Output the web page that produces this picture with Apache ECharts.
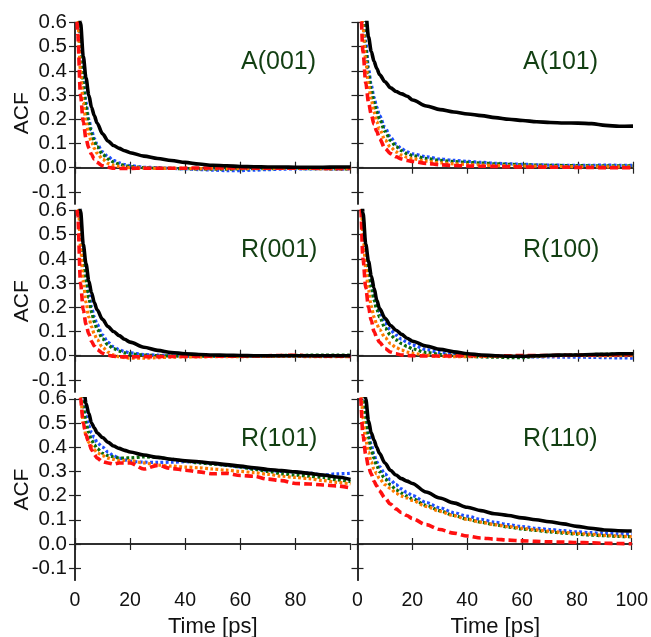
<!DOCTYPE html>
<html>
<head>
<meta charset="utf-8">
<script src="https://cdn.jsdelivr.net/npm/echarts@6/dist/echarts.min.js"></script>
<style>
html,body{margin:0;padding:0;background:#fff;}
#chart{width:651px;height:637px;}
</style>
</head>
<body>
<div id="chart"></div>
<script>
const time = [0,1,2,3,4,5,6,7,8,10,12,14,16,18,20,25,30,35,40,45,50,55,60,65,70,75,80,85,90,95,100];
const xTicks = [0,20,40,60,80,100];
const yTicks = [-0.1,0.0,0.1,0.2,0.3,0.4,0.5,0.6];
const panelTitles = ['A(001)','A(101)','R(001)','R(100)','R(101)','R(110)'];
const seriesNames = ['blue','green','orange','red','black'];

// A(001)
const a001_black = [1.0,0.78,0.6,0.46,0.37,0.30,0.25,0.215,0.185,0.14,0.11,0.092,0.08,0.07,0.062,0.048,0.038,0.03,0.022,0.015,0.01,0.008,0.005,0.004,0.003,0.003,0.002,0.002,0.002,0.003,0.003];
const a001_blue = [1.0,0.72,0.52,0.37,0.27,0.2,0.155,0.12,0.098,0.065,0.045,0.03,0.02,0.013,0.008,0.002,0.0,-0.003,-0.005,-0.008,-0.01,-0.012,-0.012,-0.01,-0.008,-0.006,-0.005,-0.005,-0.004,-0.006,-0.005];
const a001_green = [1.0,0.7,0.5,0.35,0.25,0.185,0.14,0.108,0.087,0.055,0.036,0.023,0.015,0.009,0.005,0.0,-0.002,-0.003,-0.004,-0.005,-0.006,-0.006,-0.005,-0.004,-0.004,-0.003,-0.003,-0.004,-0.004,-0.005,-0.005];
const a001_orange = [1.0,0.62,0.4,0.27,0.19,0.14,0.105,0.08,0.06,0.035,0.018,0.01,0.005,0.002,0.0,-0.002,-0.003,-0.003,-0.003,-0.004,-0.004,-0.004,-0.003,-0.003,-0.003,-0.002,-0.003,-0.003,-0.004,-0.004,-0.004];
const a001_red = [1.0,0.55,0.3,0.19,0.12,0.082,0.055,0.035,0.022,0.008,0.002,-0.002,-0.003,-0.003,-0.003,-0.002,-0.002,-0.002,-0.002,-0.001,-0.001,-0.001,-0.001,-0.002,-0.002,-0.002,-0.002,-0.002,-0.003,-0.003,-0.003];

// A(101)
const a101_black = [1.0,0.9,0.78,0.64,0.54,0.48,0.44,0.41,0.385,0.355,0.33,0.315,0.305,0.295,0.28,0.255,0.24,0.23,0.222,0.215,0.207,0.2,0.195,0.19,0.187,0.185,0.184,0.182,0.175,0.171,0.172];
const a101_blue = [1.0,0.82,0.66,0.52,0.41,0.34,0.29,0.25,0.215,0.165,0.125,0.097,0.078,0.065,0.057,0.045,0.036,0.03,0.026,0.022,0.018,0.016,0.014,0.012,0.011,0.01,0.01,0.01,0.011,0.01,0.01];
const a101_green = [1.0,0.8,0.63,0.49,0.39,0.32,0.27,0.23,0.2,0.15,0.112,0.087,0.07,0.058,0.05,0.038,0.03,0.025,0.022,0.019,0.016,0.014,0.012,0.011,0.01,0.009,0.009,0.008,0.008,0.008,0.008];
const a101_orange = [1.0,0.78,0.58,0.44,0.34,0.28,0.23,0.19,0.16,0.115,0.085,0.065,0.052,0.043,0.037,0.027,0.02,0.016,0.013,0.011,0.009,0.008,0.007,0.006,0.005,0.005,0.004,0.004,0.003,0.003,0.003];
const a101_red = [1.0,0.7,0.48,0.35,0.27,0.22,0.18,0.15,0.12,0.08,0.058,0.045,0.036,0.03,0.026,0.018,0.012,0.009,0.007,0.006,0.005,0.004,0.003,0.003,0.002,0.002,0.001,0.001,0.0,0.0,0.0];

// R(001)
const r001_black = [1.0,0.8,0.6,0.46,0.38,0.31,0.26,0.22,0.19,0.15,0.12,0.1,0.083,0.068,0.056,0.035,0.022,0.013,0.008,0.005,0.003,0.002,0.001,0.0,0.0,0.0,0.0,0.0,0.0,0.0,0.0];
const r001_blue = [1.0,0.78,0.56,0.42,0.33,0.26,0.2,0.16,0.13,0.085,0.055,0.037,0.025,0.017,0.012,0.005,0.002,0.0,-0.002,-0.003,-0.003,-0.003,-0.002,-0.002,-0.002,-0.001,-0.001,-0.002,-0.002,-0.001,-0.001];
const r001_green = [1.0,0.76,0.54,0.4,0.31,0.24,0.18,0.14,0.11,0.07,0.045,0.029,0.019,0.012,0.008,0.003,0.0,-0.001,-0.002,-0.002,-0.002,-0.001,-0.001,0.0,0.0,0.001,0.001,0.002,0.002,0.002,0.002];
const r001_orange = [1.0,0.7,0.45,0.31,0.22,0.16,0.12,0.09,0.067,0.035,0.015,0.003,-0.004,-0.008,-0.01,-0.01,-0.008,-0.006,-0.005,-0.005,-0.004,-0.004,-0.004,-0.003,-0.003,-0.003,-0.003,-0.004,-0.004,-0.004,-0.004];
const r001_red = [1.0,0.58,0.3,0.19,0.13,0.09,0.06,0.04,0.026,0.01,0.002,-0.002,-0.004,-0.005,-0.005,-0.004,-0.004,-0.003,-0.003,-0.003,-0.002,-0.002,-0.002,-0.001,0.0,0.001,0.002,0.0,-0.002,-0.002,-0.003];

// R(100)
const r100_black = [1.0,0.8,0.59,0.46,0.39,0.33,0.28,0.23,0.195,0.155,0.125,0.105,0.088,0.072,0.06,0.04,0.026,0.016,0.008,0.003,0.0,-0.002,-0.002,0.0,0.002,0.003,0.003,0.005,0.006,0.008,0.008];
const r100_blue = [1.0,0.78,0.57,0.44,0.36,0.3,0.25,0.21,0.18,0.135,0.105,0.085,0.068,0.055,0.044,0.025,0.013,0.006,0.002,0.0,-0.002,-0.003,-0.004,-0.005,-0.005,-0.006,-0.006,-0.007,-0.008,-0.009,-0.01];
const r100_green = [1.0,0.76,0.55,0.42,0.34,0.28,0.23,0.19,0.16,0.115,0.085,0.065,0.05,0.038,0.028,0.013,0.005,0.0,-0.003,-0.005,-0.006,-0.008,-0.008,-0.003,0.0,0.002,0.004,0.005,0.006,0.007,0.008];
const r100_orange = [1.0,0.72,0.5,0.36,0.27,0.205,0.16,0.13,0.108,0.075,0.05,0.034,0.023,0.015,0.01,0.002,-0.003,-0.004,-0.004,-0.003,-0.003,-0.002,-0.002,-0.001,0.0,0.0,0.001,0.0,-0.001,0.0,0.0];
const r100_red = [1.0,0.66,0.4,0.28,0.2,0.145,0.1,0.075,0.055,0.03,0.015,0.008,0.003,0.001,0.0,-0.001,-0.001,-0.001,0.0,0.0,0.0,0.0,0.001,0.001,0.001,0.002,0.002,0.003,0.004,0.004,0.005];

// R(101)
const r101_black = [1.0,0.9,0.78,0.67,0.58,0.54,0.5,0.48,0.46,0.44,0.42,0.405,0.395,0.387,0.38,0.368,0.358,0.35,0.344,0.34,0.334,0.328,0.322,0.315,0.308,0.303,0.298,0.292,0.285,0.277,0.267];
const r101_blue = [1.0,0.85,0.7,0.6,0.53,0.49,0.46,0.44,0.42,0.4,0.38,0.365,0.355,0.348,0.342,0.338,0.337,0.338,0.34,0.338,0.333,0.325,0.318,0.312,0.305,0.3,0.298,0.293,0.285,0.29,0.292];
const r101_green = [1.0,0.83,0.68,0.57,0.5,0.46,0.43,0.41,0.395,0.375,0.365,0.36,0.355,0.355,0.356,0.36,0.358,0.35,0.342,0.335,0.33,0.325,0.318,0.308,0.3,0.29,0.285,0.28,0.275,0.265,0.258];
const r101_orange = [1.0,0.78,0.62,0.5,0.45,0.42,0.405,0.39,0.378,0.365,0.355,0.35,0.345,0.345,0.345,0.335,0.326,0.322,0.318,0.315,0.31,0.305,0.3,0.295,0.288,0.28,0.275,0.27,0.262,0.255,0.248];
const r101_red = [1.0,0.72,0.6,0.5,0.45,0.42,0.39,0.37,0.355,0.34,0.335,0.33,0.335,0.335,0.335,0.31,0.325,0.312,0.305,0.298,0.29,0.292,0.283,0.28,0.268,0.262,0.25,0.248,0.244,0.24,0.232];

// R(110)
const r110_black = [1.0,0.9,0.75,0.6,0.51,0.46,0.43,0.4,0.375,0.335,0.305,0.285,0.27,0.26,0.25,0.215,0.19,0.17,0.152,0.138,0.125,0.118,0.108,0.1,0.092,0.083,0.073,0.065,0.058,0.055,0.054];
const r110_blue = [1.0,0.85,0.68,0.54,0.46,0.41,0.37,0.34,0.32,0.29,0.265,0.245,0.228,0.213,0.2,0.172,0.15,0.13,0.115,0.102,0.09,0.08,0.072,0.065,0.06,0.055,0.05,0.047,0.044,0.042,0.04];
const r110_green = [1.0,0.83,0.65,0.52,0.44,0.39,0.355,0.325,0.3,0.27,0.245,0.225,0.21,0.198,0.187,0.16,0.138,0.118,0.103,0.09,0.08,0.07,0.062,0.056,0.05,0.045,0.041,0.037,0.034,0.031,0.03];
const r110_orange = [1.0,0.72,0.52,0.43,0.38,0.34,0.31,0.29,0.27,0.245,0.23,0.21,0.198,0.19,0.18,0.155,0.135,0.117,0.102,0.09,0.08,0.072,0.065,0.058,0.053,0.048,0.044,0.04,0.036,0.033,0.03];
const r110_red = [1.0,0.62,0.45,0.37,0.32,0.29,0.26,0.24,0.22,0.19,0.165,0.145,0.13,0.118,0.105,0.08,0.06,0.045,0.033,0.025,0.02,0.016,0.013,0.011,0.009,0.008,0.006,0.005,0.003,0.002,0.001];

const panelData = [
  [a001_blue, a001_green, a001_orange, a001_red, a001_black],
  [a101_blue, a101_green, a101_orange, a101_red, a101_black],
  [r001_blue, r001_green, r001_orange, r001_red, r001_black],
  [r100_blue, r100_green, r100_orange, r100_red, r100_black],
  [r101_blue, r101_green, r101_orange, r101_red, r101_black],
  [r110_blue, r110_green, r110_orange, r110_red, r110_black]
];

const styles = [
  {color:'#1f4fff', width:3.2, type:[2.8,2.4]},
  {color:'#0b6b0b', width:3.2, type:[2.8,2.4]},
  {color:'#ff7a00', width:3.2, type:[2.8,2.4]},
  {color:'#ff1010', width:3.6, type:[8,4]},
  {color:'#000000', width:3.6, type:'solid'}
];

const gridLefts = [75, 357.5];
const gridWidth = 275.5;
const gridTops = [22.5, 210.5, 398.8];
const gridHeight = 181.5;
const frameColor = '#222';
const fontFam = '"Liberation Sans", Arial, sans-serif';

const grids = [], xAxes = [], yAxes = [], series = [], graphics = [];
for (let i = 0; i < 6; i++) {
  const col = i % 2, row = Math.floor(i / 2);
  grids.push({left: gridLefts[col], top: gridTops[row], width: gridWidth, height: gridHeight, containLabel: false});
  const isBottom = row === 2;
  const base = {
    gridIndex: i, type: 'value', min: 0, max: 100, interval: 20,
    axisLine: {show: true, lineStyle: {color: frameColor, width: 1.5}},
    axisTick: {show: true, inside: true, length: 6, lineStyle: {color: frameColor, width: 1.2}},
    splitLine: {show: false}
  };
  xAxes.push(Object.assign({}, base, {
    position: 'bottom',
    axisLabel: {show: isBottom, margin: 10, fontSize: 19.5, color: '#111', fontFamily: fontFam,
      showMaxLabel: col === 1, showMinLabel: true}
  }));
  xAxes.push(Object.assign({}, base, {position: 'top', axisLabel: {show: false}}));
  const ybase = {
    gridIndex: i, type: 'value', min: -0.15, max: 0.6,
    axisLine: {show: true, lineStyle: {color: frameColor, width: 1.5}},
    axisTick: {show: true, inside: true, length: 6, customValues: yTicks, lineStyle: {color: frameColor, width: 1.2}},
    splitLine: {show: false}
  };
  yAxes.push(Object.assign({}, ybase, {
    position: 'left',
    axisLabel: {show: col === 0, customValues: yTicks, margin: 8, fontSize: 20.5, color: '#111', fontFamily: fontFam,
      formatter: v => (Math.abs(v) < 1e-9 ? 0 : v).toFixed(1)}
  }));
  yAxes.push(Object.assign({}, ybase, {position: 'right', axisLabel: {show: false}}));

  panelData[i].forEach((arr, k) => {
    const st = styles[k];
    series.push({
      name: seriesNames[k], type: 'line', xAxisIndex: 2 * i, yAxisIndex: 2 * i,
      data: time.map((t, j) => [t, arr[j]]),
      showSymbol: false, smooth: 0.3, smoothMonotone: 'x', clip: true,
      lineStyle: {color: st.color, width: st.width, type: st.type, cap: 'butt'},
      z: 2 + k, silent: true, animation: false
    });
  });

  graphics.push({
    type: 'text',
    x: gridLefts[col] + (col === 0 ? 166 : 165.5),
    y: gridTops[row] + 40,
    style: {text: panelTitles[i], font: '25px ' + fontFam, fill: '#123f12', align: 'left', verticalAlign: 'middle'}
  });
}
for (let row = 0; row < 3; row++) {
  graphics.push({
    type: 'text', x: 22, y: gridTops[row] + gridHeight / 2, rotation: Math.PI / 2,
    style: {text: 'ACF', font: '21px ' + fontFam, fill: '#111', align: 'center', verticalAlign: 'middle'}
  });
}
for (let col = 0; col < 2; col++) {
  graphics.push({
    type: 'text', x: gridLefts[col] + gridWidth / 2, y: 627,
    style: {text: 'Time [ps]', font: '22px ' + fontFam, fill: '#111', align: 'center', verticalAlign: 'middle'}
  });
}

const chart = echarts.init(document.getElementById('chart'), null, {renderer: 'canvas'});
chart.setOption({
  animation: false,
  backgroundColor: '#ffffff',
  grid: grids,
  xAxis: xAxes,
  yAxis: yAxes,
  series: series,
  graphic: graphics
});
</script>
</body>
</html>
